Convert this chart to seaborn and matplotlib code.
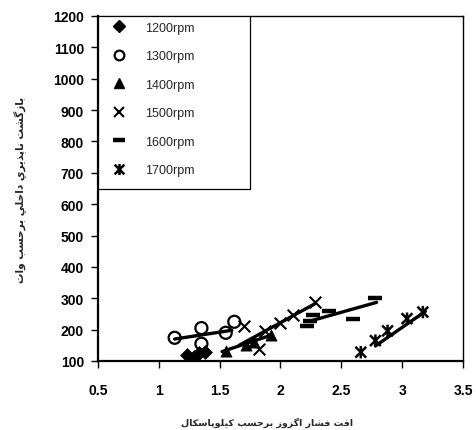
import numpy as np
import pandas as pd
import matplotlib
matplotlib.use("Agg")
import matplotlib.pyplot as plt
from matplotlib.path import Path
from matplotlib.lines import Line2D
from matplotlib.patches import Rectangle
import seaborn as sns

# ---------------- data ----------------
series_names = ["1200rpm", "1300rpm", "1400rpm", "1500rpm", "1600rpm", "1700rpm"]

x_1200 = [1.23, 1.29, 1.33, 1.38]
y_1200 = [120, 112, 125, 130]
x_1300 = [1.13, 1.35, 1.35, 1.55, 1.62]
y_1300 = [174, 205, 155, 190, 225]
x_1400 = [1.55, 1.72, 1.78, 1.92]
y_1400 = [133, 152, 160, 182]
x_1500 = [1.70, 1.82, 1.87, 2.00, 2.10, 2.28]
y_1500 = [212, 138, 196, 220, 246, 287]
x_1600 = [2.22, 2.24, 2.27, 2.40, 2.60, 2.78]
y_1600 = [212, 228, 248, 260, 234, 300]
x_1700 = [2.66, 2.78, 2.88, 3.04, 3.17]
y_1700 = [128, 165, 196, 235, 256]

# trend line end points
trend_x = [[1.24, 1.40], [1.13, 1.60], [1.52, 1.92], [1.66, 2.28], [2.25, 2.79], [2.78, 3.19]]
trend_y = [[114, 134], [170, 198], [130, 182], [150, 282], [228, 287], [148, 258]]

x_ticks = [0.5, 1, 1.5, 2, 2.5, 3, 3.5]
x_tick_labels = ["0.5", "1", "1.5", "2", "2.5", "3", "3.5"]
y_ticks = list(range(100, 1201, 100))

x_label = "افت فشار اگزوز برحسب كيلوپاسكال"
y_label = "بازگشت ناپذيري داخلي برحسب وات"

# ---------------- simple Arabic/Persian shaping ----------------
FORMS = {
    '\u0627': ('\uFE8D', '\uFE8E', None, None),
    '\u0628': ('\uFE8F', '\uFE90', '\uFE91', '\uFE92'),
    '\u062A': ('\uFE95', '\uFE96', '\uFE97', '\uFE98'),
    '\u062D': ('\uFEA1', '\uFEA2', '\uFEA3', '\uFEA4'),
    '\u062E': ('\uFEA5', '\uFEA6', '\uFEA7', '\uFEA8'),
    '\u062F': ('\uFEA9', '\uFEAA', None, None),
    '\u0630': ('\uFEAB', '\uFEAC', None, None),
    '\u0631': ('\uFEAD', '\uFEAE', None, None),
    '\u0632': ('\uFEAF', '\uFEB0', None, None),
    '\u0633': ('\uFEB1', '\uFEB2', '\uFEB3', '\uFEB4'),
    '\u0634': ('\uFEB5', '\uFEB6', '\uFEB7', '\uFEB8'),
    '\u0641': ('\uFED1', '\uFED2', '\uFED3', '\uFED4'),
    '\u0643': ('\uFED9', '\uFEDA', '\uFEDB', '\uFEDC'),
    '\u0644': ('\uFEDD', '\uFEDE', '\uFEDF', '\uFEE0'),
    '\u0646': ('\uFEE5', '\uFEE6', '\uFEE7', '\uFEE8'),
    '\u0648': ('\uFEED', '\uFEEE', None, None),
    '\u064A': ('\uFEF1', '\uFEF2', '\uFEF3', '\uFEF4'),
    '\u06CC': ('\uFBFC', '\uFBFD', '\uFBFE', '\uFBFF'),
    '\u067E': ('\uFB56', '\uFB57', '\uFB58', '\uFB59'),
    '\u06AF': ('\uFB92', '\uFB93', '\uFB94', '\uFB95'),
    '\u06A9': ('\uFB8E', '\uFB8F', '\uFB90', '\uFB91'),
}


def shape(text):
    out = []
    n = len(text)
    for i, ch in enumerate(text):
        if ch not in FORMS:
            out.append(ch)
            continue
        prev = text[i - 1] if i > 0 else None
        nxt = text[i + 1] if i < n - 1 else None
        join_prev = prev in FORMS and FORMS[prev][2] is not None
        join_next = nxt in FORMS and FORMS[ch][2] is not None
        iso, fin, ini, med = FORMS[ch]
        if join_prev and join_next:
            out.append(med)
        elif join_prev:
            out.append(fin)
        elif join_next:
            out.append(ini)
        else:
            out.append(iso)
    return "".join(out)[::-1]


# ---------------- figure ----------------
sns.set_theme(style="white")
plt.rcParams['font.family'] = ['Liberation Sans', 'DejaVu Sans']

fig = plt.figure(figsize=(4.77, 4.31), dpi=100)
ax = fig.add_axes([98 / 477, 1 - 362 / 431, 365 / 477, 345 / 431])
ax.set_facecolor("white")

star = Path([(-1, -1), (1, 1), (-1, 1), (1, -1), (0, -1.15), (0, 1.15)],
            [Path.MOVETO, Path.LINETO, Path.MOVETO, Path.LINETO, Path.MOVETO, Path.LINETO])

styles = [
    dict(marker="D", s=50, color="black", edgecolor="black", linewidth=0.5),
    dict(marker="o", s=75, facecolor="none", edgecolor="black", linewidth=1.6),
    dict(marker="^", s=65, color="black", edgecolor="black", linewidth=0.5),
    dict(marker="x", s=70, color="black", linewidth=1.5),
    dict(marker="_", s=90, color="black", linewidth=3.2),
    dict(marker=star, s=80, facecolor="none", edgecolor="black", linewidth=1.8),
]

xs = [x_1200, x_1300, x_1400, x_1500, x_1600, x_1700]
ys = [y_1200, y_1300, y_1400, y_1500, y_1600, y_1700]

for name, xv, yv, st, tx, ty in zip(series_names, xs, ys, styles, trend_x, trend_y):
    df = pd.DataFrame({"x": xv, "y": yv})
    sns.scatterplot(data=df, x="x", y="y", ax=ax, legend=False, zorder=3, **st)
    tdf = pd.DataFrame({"x": tx, "y": ty})
    sns.lineplot(data=tdf, x="x", y="y", ax=ax, color="black", linewidth=2.4,
                 legend=False, zorder=4, sort=False)

ax.set_xlim(0.5, 3.5)
ax.set_ylim(100, 1200)
ax.set_xticks(x_ticks)
ax.set_xticklabels(x_tick_labels)
ax.set_yticks(y_ticks)
ax.tick_params(axis="both", direction="out", length=5, width=1, color="black",
               labelsize=10, labelcolor="black")
ax.tick_params(axis="x", pad=11)
ax.tick_params(axis="y", pad=5)
ax.tick_params(bottom=True, left=True)
for lab in ax.get_xticklabels() + ax.get_yticklabels():
    lab.set_fontweight("bold")

for side, sp in ax.spines.items():
    sp.set_visible(True)
    sp.set_color("black")
    sp.set_linewidth(1.6 if side in ("left", "bottom") else 1.0)

ax.set_xlabel(shape(x_label), fontsize=6.8, fontweight="bold", family=["DejaVu Sans"],
              va="center", ha="center")
ax.xaxis.set_label_coords(0.463, -0.177)
ax.set_ylabel(shape(y_label), fontsize=7.6, fontweight="bold", family=["DejaVu Sans"],
              va="center", ha="center")
ax.yaxis.set_label_coords(-0.216, 0.5)

# legend frame
ax.add_patch(Rectangle((0, 0.4986), 0.416, 0.5014, transform=ax.transAxes,
                       facecolor="white", edgecolor="black", linewidth=0.9, zorder=5))

handles = [
    Line2D([], [], linestyle="none", marker="D", markersize=6, color="black"),
    Line2D([], [], linestyle="none", marker="o", markersize=7, markerfacecolor="none",
           markeredgecolor="black", markeredgewidth=1.6),
    Line2D([], [], linestyle="none", marker="^", markersize=7, color="black"),
    Line2D([], [], linestyle="none", marker="x", markersize=7, color="black", markeredgewidth=1.5),
    Line2D([], [], linestyle="none", marker="_", markersize=8, color="black", markeredgewidth=3.2),
    Line2D([], [], linestyle="none", marker=star, markersize=8, color="black", markeredgewidth=1.8),
]
leg = ax.legend(handles, series_names, loc="upper left", bbox_to_anchor=(0.0, 1.0),
                frameon=False, fontsize=9, borderaxespad=0, borderpad=0.45,
                handlelength=2.5, handletextpad=0.8, labelspacing=1.32)
leg.set_zorder(6)

fig.savefig("out.png", dpi=100, facecolor="white")
